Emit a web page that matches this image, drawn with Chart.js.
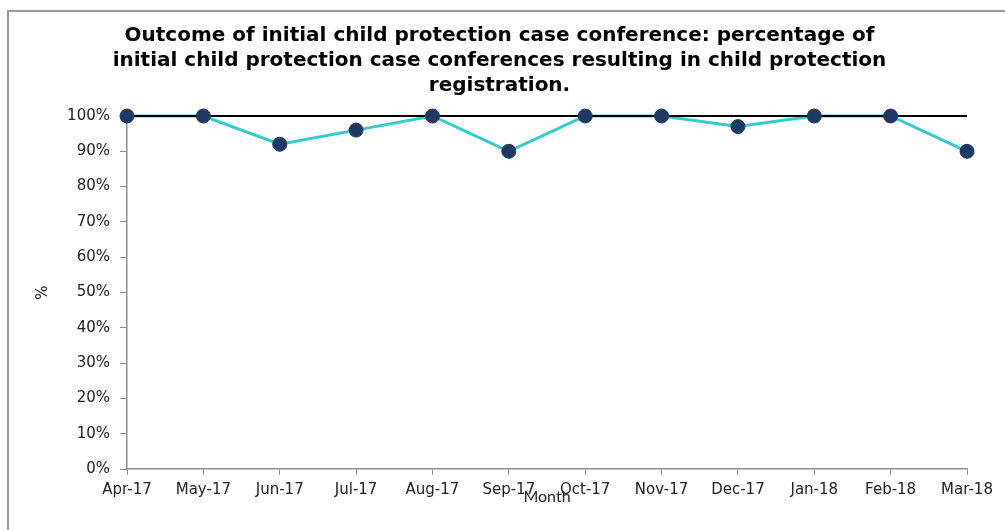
<!DOCTYPE html>
<html>
<head>
<meta charset="utf-8">
<script src="https://cdn.jsdelivr.net/npm/chart.js@4/dist/chart.umd.min.js"></script>
<style>
  html, body { margin: 0; padding: 0; background: #fff; overflow: hidden; }
  #frame { position: absolute; left: 7px; top: 10px; width: 1100px; height: 600px; border: 2px solid #9a9a9a; }
  #wrap { position: absolute; left: 0; top: 0; width: 1005px; height: 530px; }
</style>
</head>
<body>
<div id="frame"></div>
<div id="wrap"><canvas id="myChart" width="1005" height="530"></canvas></div>
<script>
// data
const months = ['Apr-17', 'May-17', 'Jun-17', 'Jul-17', 'Aug-17', 'Sep-17', 'Oct-17', 'Nov-17', 'Dec-17', 'Jan-18', 'Feb-18', 'Mar-18']
const registrationPct = [100, 100, 92, 96, 100, 90, 100, 100, 97, 100, 100, 90]
const targetPct = [100, 100, 100, 100, 100, 100, 100, 100, 100, 100, 100, 100]
const titleLines = [
  'Outcome of initial child protection case conference: percentage of',
  'initial child protection case conferences resulting in child protection',
  'registration.'
]

const axisGrey = '#8c8c8c'
let ctx = document.getElementById('myChart').getContext('2d')

// teal line at the back, black target line over it, markers on top
let graph = new Chart(ctx, {
  type: 'line',
  data: {
    labels: months,
    datasets: [{
      label: 'Registration %',
      data: registrationPct,
      borderColor: '#33CCCC',
      borderWidth: 3,
      pointRadius: 0,
      fill: false,
      tension: 0,
      clip: false,
      order: 3
    }, {
      label: 'Target',
      data: targetPct,
      borderColor: '#000000',
      borderWidth: 2,
      pointRadius: 0,
      fill: false,
      clip: false,
      order: 2
    }, {
      label: 'Registration % points',
      data: registrationPct,
      showLine: false,
      pointBackgroundColor: '#1F3864',
      pointBorderColor: '#1F3864',
      pointRadius: 7,
      pointBorderWidth: 1,
      clip: false,
      order: 1
    }]
  },
  options: {
    responsive: false,
    animation: false,
    layout: { padding: { left: 32, right: 38, top: 0, bottom: 0 } },
    plugins: {
      legend: { display: false },
      tooltip: { enabled: false },
      title: {
        display: true,
        text: titleLines,
        color: '#000',
        font: { family: 'DejaVu Sans', size: 20, weight: 'bold', lineHeight: 1.25 },
        padding: { top: 23, bottom: 18 }
      }
    },
    scales: {
      x: {
        offset: false,
        grid: { drawOnChartArea: false, drawTicks: true, tickLength: 6, color: axisGrey },
        border: { color: axisGrey, width: 1.5 },
        ticks: { color: '#222', font: { family: 'DejaVu Sans', size: 15 }, padding: 6, maxRotation: 0, autoSkip: false },
        title: { display: true, text: 'Month', color: '#222', font: { family: 'Lato', size: 16 }, padding: { top: 0, bottom: 24 } },
        afterFit: (scale) => { scale.height = 61 }
      },
      y: {
        min: 0,
        max: 100,
        grid: { drawOnChartArea: false, drawTicks: true, tickLength: 7, color: axisGrey },
        border: { color: axisGrey, width: 1.5 },
        ticks: { stepSize: 10, color: '#222', font: { family: 'DejaVu Sans', size: 15 }, padding: 10, callback: (v) => v + '%' },
        title: { display: true, text: '%', color: '#222', font: { family: 'DejaVu Sans', size: 15 }, padding: 2 },
        afterFit: (scale) => { scale.width = 95 }
      }
    }
  }
})
</script>
</body>
</html>
